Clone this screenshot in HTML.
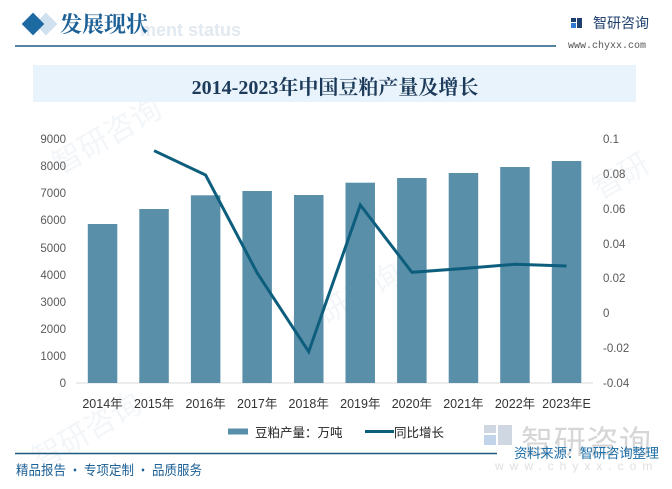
<!DOCTYPE html>
<html><head><meta charset="utf-8"><style>
html,body{margin:0;padding:0;background:#fff;}
body{width:672px;height:489px;overflow:hidden;position:relative;font-family:"Liberation Sans","Noto Sans CJK SC",sans-serif;}
</style></head><body>
<svg width="672" height="489" viewBox="0 0 672 489" xmlns="http://www.w3.org/2000/svg" style="position:absolute;left:0;top:0">
<!-- faint background watermarks -->
<g fill="#f3f6f9">
  <text x="60" y="175" font-size="30" font-family="Noto Sans CJK SC, sans-serif" transform="rotate(-30 60 175)">智研咨询</text>
  <text x="300" y="340" font-size="30" font-family="Noto Sans CJK SC, sans-serif" transform="rotate(-30 300 340)">智研咨询</text>
  <text x="40" y="470" font-size="30" font-family="Noto Sans CJK SC, sans-serif" transform="rotate(-30 40 470)">智研咨询</text>
  <text x="600" y="200" font-size="30" font-family="Noto Sans CJK SC, sans-serif" transform="rotate(-30 600 200)">智研</text>
</g>
<!-- header -->
<text x="140" y="36" font-size="18" font-weight="bold" fill="#e2e9f0" font-family="Liberation Sans, sans-serif">ment status</text>
<rect x="38" y="16" width="16" height="16" fill="#cfe0ee" transform="rotate(45 46 24)"/>
<rect x="25" y="16" width="16" height="16" fill="#1d6aa3" transform="rotate(45 33 24)"/>
<text x="60" y="32" font-size="22" font-weight="bold" fill="#1e6196" font-family="Noto Serif CJK SC, serif">发展现状</text>
<line x1="15" y1="46" x2="556" y2="46" stroke="#1d5a80" stroke-width="1.6"/>
<!-- logo top right -->
<rect x="571" y="18" width="5" height="4" fill="#1f3f6e"/>
<rect x="571" y="23" width="5" height="5" fill="#2f7bd1"/>
<rect x="577" y="18" width="5" height="10" fill="#1f3f6e"/>
<text x="593" y="28" font-size="14" fill="#1f3f6e" font-family="Noto Sans CJK SC, sans-serif">智研咨询</text>
<text x="568" y="48" font-size="10" fill="#555" font-family="Liberation Mono, monospace">www.chyxx.com</text>
<!-- title band -->
<rect x="33" y="65" width="603" height="37" fill="#e8f3fb"/>
<text x="335" y="94" font-size="20" font-weight="bold" fill="#1c3a5a" text-anchor="middle" font-family="Liberation Serif, Noto Serif CJK SC, serif">2014-2023年中国豆粕产量及增长</text>
<!-- axis -->
<line x1="76" y1="383" x2="593" y2="383" stroke="#d9d9d9" stroke-width="1"/>
<!-- bars -->
<g fill="#5a8fa9">
  <rect x="87.8" y="224" width="29.5" height="159"/>
  <rect x="139.3" y="209" width="29.5" height="174"/>
  <rect x="190.9" y="195.3" width="29.5" height="187.7"/>
  <rect x="242.4" y="191" width="29.5" height="192"/>
  <rect x="294" y="195" width="29.5" height="188"/>
  <rect x="345.5" y="182.7" width="29.5" height="200.3"/>
  <rect x="397.1" y="178" width="29.5" height="205"/>
  <rect x="448.7" y="173" width="29.5" height="210"/>
  <rect x="500.2" y="167" width="29.5" height="216"/>
  <rect x="551.8" y="161" width="29.5" height="222"/>
</g>
<!-- line -->
<polyline points="154.1,150.7 205.6,175 257.2,273 308.7,351.7 360.3,205 411.9,272.3 463.4,268.5 515,264.3 566.5,266" fill="none" stroke="#0d5e7d" stroke-width="3" stroke-linejoin="miter"/>
<!-- left ticks -->
<g font-size="11.5" fill="#595959" text-anchor="end" font-family="Liberation Sans, sans-serif">
  <text x="66" y="387">0</text>
  <text x="66" y="360">1000</text>
  <text x="66" y="333">2000</text>
  <text x="66" y="306">3000</text>
  <text x="66" y="279">4000</text>
  <text x="66" y="252">5000</text>
  <text x="66" y="224">6000</text>
  <text x="66" y="197">7000</text>
  <text x="66" y="170">8000</text>
  <text x="66" y="143">9000</text>
</g>
<!-- right ticks -->
<g font-size="11.5" fill="#595959" font-family="Liberation Sans, sans-serif">
  <text x="603" y="143">0.1</text>
  <text x="603" y="178">0.08</text>
  <text x="603" y="213">0.06</text>
  <text x="603" y="248">0.04</text>
  <text x="603" y="282">0.02</text>
  <text x="603" y="317">0</text>
  <text x="603" y="352">-0.02</text>
  <text x="603" y="387">-0.04</text>
</g>
<!-- x labels -->
<g font-size="12.5" fill="#333" text-anchor="middle" font-family="Liberation Sans, Noto Sans CJK SC, sans-serif">
  <text x="102.5" y="408">2014年</text>
  <text x="154.1" y="408">2015年</text>
  <text x="205.6" y="408">2016年</text>
  <text x="257.2" y="408">2017年</text>
  <text x="308.7" y="408">2018年</text>
  <text x="360.3" y="408">2019年</text>
  <text x="411.9" y="408">2020年</text>
  <text x="463.4" y="408">2021年</text>
  <text x="515" y="408">2022年</text>
  <text x="566.5" y="408">2023年E</text>
</g>
<!-- bottom watermark logo -->
<rect x="484" y="425" width="12" height="8" fill="#cfd8e2"/>
<rect x="484" y="435" width="12" height="10" fill="#c2d4ea"/>
<rect x="498" y="425" width="14" height="20" fill="#cfd8e2"/>
<text x="521" y="453" font-size="32" fill="#d6d6d6" textLength="130" font-family="Noto Sans CJK SC, sans-serif">智研咨询</text>
<text x="495" y="470" font-size="12" fill="#e0e0e0" letter-spacing="6" font-family="Liberation Sans, sans-serif">www.chyxx.com</text>
<!-- legend -->
<rect x="228" y="428.5" width="20" height="6" fill="#5a8fa9"/>
<text x="255" y="437" font-size="12.5" fill="#222" font-family="Noto Sans CJK SC, sans-serif">豆粕产量：万吨</text>
<line x1="365" y1="431.5" x2="394" y2="431.5" stroke="#0d5e7d" stroke-width="3"/>
<text x="394" y="437" font-size="12.5" fill="#222" font-family="Noto Sans CJK SC, sans-serif">同比增长</text>
<!-- footer -->
<line x1="15" y1="453.5" x2="497" y2="453.5" stroke="#1d5a80" stroke-width="1.5"/>
<text x="514" y="458" font-size="13.5" fill="#1e6fa8" textLength="145" font-family="Noto Sans CJK SC, sans-serif">资料来源：智研咨询整理</text>
<text x="16" y="475" font-size="13.5" fill="#1e6196" textLength="186" lengthAdjust="spacingAndGlyphs" font-family="Noto Sans CJK SC, sans-serif">精品报告 · 专项定制 · 品质服务</text>
</svg>
</body></html>
